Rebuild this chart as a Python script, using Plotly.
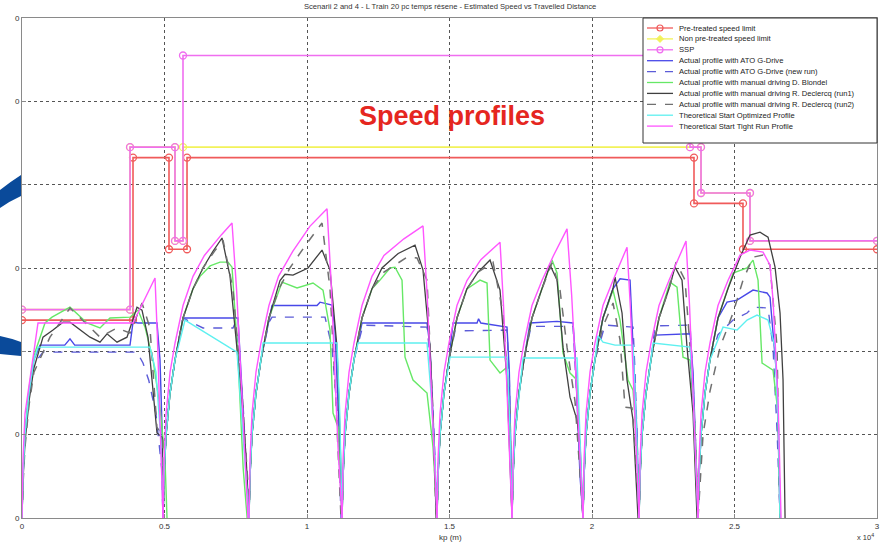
import plotly.graph_objects as go

TITLE = "Scenarii 2 and 4 - L Train 20 pc temps résene - Estimated Speed vs Travelled Distance"
X_TICKS = [0, 5000, 10000, 15000, 20000, 25000, 30000]
X_TICK_LABELS = ["0", "0.5", "1", "1.5", "2", "2.5", "3"]
Y_TICKS = [0, 20, 40, 60, 80, 100, 120]
Y_TICK_LABELS = ["0", "0", "0", "0", "0", "0", "0"]

LEGEND_LABELS = [
    "Pre-treated speed limit",
    "Non pre-treated speed limit",
    "SSP",
    "Actual profile with ATO G-Drive",
    "Actual profile with ATO G-Drive (new run)",
    "Actual profile with manual driving D. Blondel",
    "Actual profile with manual driving R. Declercq (run1)",
    "Actual profile with manual driving R. Declercq (run2)",
    "Theoretical Start Optimized Profile",
    "Theoretical Start Tight Run Profile",
]

# speed limits (distance m, speed)
PRE_TREATED = [(0, 47.5), (3895, 47.5), (3895, 86.5), (5158, 86.5), (5158, 64.5), (5790, 64.5),
               (5790, 86.5), (23579, 86.5), (23579, 75.5), (25298, 75.5), (25298, 64.5), (30000, 64.5)]
NON_PRE_TREATED = [(0, 50), (3790, 50), (3790, 89), (5368, 89), (5368, 66.5), (5649, 66.5),
                   (5649, 89), (23439, 89), (23825, 89), (23825, 78), (25544, 78), (25544, 66.5), (30000, 66.5)]
SSP = [(0, 50), (3790, 50), (3790, 89), (5368, 89), (5368, 66.5), (5649, 66.5), (5649, 111),
       (23439, 111), (23439, 89), (23825, 89), (23825, 78), (25544, 78), (25544, 66.5), (30000, 66.5)]

ATO = [
    [(0, 0), (35, 10), (105, 20), (245, 30), (420, 38), (632, 41.5), (1500, 41.5), (1684, 43), (1850, 41.5),
     (3790, 41.5), (3895, 47), (4070, 46.8), (4737, 46.8), (4842, 38), (4913, 22), (4948, 0)],
    [(4950, 0), (4985, 10), (5055, 20), (5195, 30), (5370, 38), (5649, 48), (7579, 48), (7720, 30.7), (7860, 15), (7965, 0)],
    [(7965, 0), (8000, 10), (8070, 20), (8210, 30), (8385, 38), (8665, 48), (8773, 51), (10352, 51), (10457, 51.8),
     (10878, 51.1), (10983, 45), (11100, 25), (11229, 0)],
    [(11230, 0), (11265, 10), (11335, 20), (11475, 30), (11650, 38), (11930, 46.8), (14211, 46.8), (14317, 41), (14450, 20), (14562, 0)],
    [(14562, 0), (14597, 10), (14667, 20), (14807, 30), (14982, 38), (15124, 46.8), (15966, 46.8), (16020, 47.8), (16100, 46.8),
     (17018, 45.8), (17100, 35), (17160, 15), (17194, 0)],
    [(17194, 0), (17229, 10), (17299, 20), (17439, 30), (17614, 38), (17826, 46.8), (18773, 47.2), (19334, 46.8), (19404, 40),
     (19500, 25), (19580, 10), (19685, 0)],
    [(19685, 0), (19720, 10), (19790, 20), (19930, 30), (20105, 38), (20385, 48), (20735, 55), (20984, 57.4), (21335, 57.1),
     (21510, 33), (21580, 20), (21651, 0)],
    [(21651, 0), (21686, 10), (21756, 20), (21896, 30), (22071, 38), (22212, 43.9), (23440, 44.2), (23545, 35), (23650, 15), (23721, 0)],
    [(23721, 0), (23756, 10), (23826, 20), (23966, 30), (24141, 38), (24421, 48), (24738, 51.8), (25089, 52.3), (25650, 54.7),
     (26142, 54), (26247, 53), (26493, 33), (26598, 0)],
]

ATO_NEW = [
    [(0, 0), (35, 10), (105, 20), (245, 30), (420, 37), (737, 39.8), (4035, 39.8), (4246, 37.2), (4450, 33), (4700, 25), (4900, 12), (4948, 0)],
    [(4950, 0), (4985, 10), (5055, 20), (5195, 30), (5370, 38), (5649, 48), (6351, 45.6), (7404, 45.6), (7480, 46.8), (7600, 40),
     (7750, 28), (7880, 12), (7965, 0)],
    [(7965, 0), (8000, 10), (8070, 20), (8210, 30), (8385, 38), (8665, 47), (8773, 48.2), (10633, 48.2), (10878, 41), (11100, 22), (11194, 0)],
    [(11230, 0), (11265, 10), (11335, 20), (11475, 30), (11650, 38), (11966, 46.3), (14211, 45.8), (14330, 38), (14470, 18), (14562, 0)],
    [(14562, 0), (14597, 10), (14667, 20), (14807, 30), (14982, 38), (15194, 44.9), (17018, 45.1), (17100, 33), (17194, 0)],
    [(17194, 0), (17229, 10), (17299, 20), (17439, 30), (17614, 38), (17860, 46), (19334, 46), (19450, 32), (19600, 12), (19685, 0)],
    [(19685, 0), (19720, 10), (19790, 20), (19930, 30), (20105, 38), (20457, 46.3), (21440, 45.8), (21510, 35), (21600, 15), (21651, 0)],
    [(21651, 0), (21686, 10), (21756, 20), (21896, 30), (22071, 38), (22212, 46.1), (23440, 46.3), (23545, 33), (23650, 12), (23721, 0)],
    [(23721, 0), (23756, 10), (23826, 20), (23966, 30), (24141, 38), (24421, 44), (24949, 47.5), (25440, 49.2), (25650, 50.6),
     (26177, 50.4), (26352, 41), (26500, 20), (26598, 0)],
]

BLONDEL = [
    [(0, 0), (35, 10), (105, 20), (245, 31), (420, 39), (807, 46.8), (1053, 48.2), (1684, 50.6), (2281, 46.8), (2737, 45.6),
     (3088, 48), (3790, 48.2), (4070, 49.9), (4316, 45.8), (4597, 38), (4842, 26.6), (5018, 13.9), (5088, 0)],
    [(4950, 0), (4985, 10), (5055, 20), (5195, 30), (5370, 38), (5650, 48), (6000, 55), (6246, 58), (6600, 60.5), (6948, 61.4),
     (7229, 61.4), (7369, 60.2), (7579, 38.6), (7650, 26.6), (7760, 12), (7900, 0)],
    [(7965, 0), (8000, 10), (8070, 20), (8210, 30), (8385, 38), (8665, 48), (9123, 56.6), (9650, 55.2), (10211, 56.4),
     (10562, 54.7), (10808, 45.1), (10913, 25.2), (11088, 21.8), (11229, 0)],
    [(11230, 0), (11265, 10), (11335, 20), (11475, 30), (11650, 38), (11930, 48), (12280, 55), (12562, 57.1), (12913, 60),
     (13088, 60.2), (13334, 57.1), (13439, 38.6), (13720, 33.1), (14211, 30), (14422, 17), (14562, 0)],
    [(14562, 0), (14597, 10), (14667, 20), (14807, 30), (14982, 38), (15262, 48), (15612, 55), (16071, 57.1), (16317, 56.4),
     (16422, 37.9), (16773, 34.8), (17018, 36.2), (17124, 17), (17194, 0)],
    [(17194, 0), (17229, 10), (17299, 20), (17439, 30), (17614, 38), (17894, 48), (18244, 55), (18597, 61.9), (18773, 58.8),
     (18983, 39.6), (19229, 34.8), (19475, 33.1), (19580, 14.6), (19685, 0)],
    [(19685, 0), (19720, 10), (19790, 20), (19930, 30), (20105, 38), (20385, 48), (20738, 54.7), (20984, 47.5), (21264, 33.1),
     (21440, 30.7), (21580, 17), (21651, 0)],
    [(21651, 0), (21686, 10), (21756, 20), (21896, 30), (22071, 38), (22351, 48), (22738, 56.6), (22984, 55.4), (23194, 38.6),
     (23440, 37.9), (23615, 21), (23721, 0)],
    [(23721, 0), (23756, 10), (23826, 20), (23966, 30), (24141, 38), (24421, 48), (24949, 58.8), (25440, 60), (25650, 61.9),
     (25826, 57.1), (25967, 37.2), (26352, 35.5), (26528, 25.2), (26598, 0)],
]

DECLERCQ_1 = [
    [(0, 0), (35, 9), (105, 18), (245, 28), (420, 36), (737, 43.4), (1088, 45.1), (1439, 47), (1684, 47), (1965, 45.6),
     (2386, 43.4), (2737, 42.2), (2983, 44.2), (3334, 42.2), (3684, 43.4), (4035, 50.6), (4211, 49.9), (4421, 43.4),
     (4597, 30), (4737, 20.4), (4913, 19.4), (4960, 0)],
    [(4950, 0), (4985, 10), (5055, 20), (5195, 30), (5370, 38), (5650, 48), (6000, 55), (6350, 60), (6700, 64), (7018, 67.2),
     (7300, 58), (7650, 33), (7860, 15), (7965, 0)],
    [(7965, 0), (8000, 10), (8070, 20), (8210, 30), (8385, 38), (8665, 48), (9053, 57), (9229, 58.5), (9509, 58.3),
     (10036, 60), (10527, 64.3), (10808, 59.5), (11053, 41), (11159, 20), (11229, 0)],
    [(11230, 0), (11265, 10), (11335, 20), (11475, 30), (11650, 38), (11930, 48), (12280, 55), (12630, 60), (13200, 63.5),
     (13790, 65.5), (14071, 59.5), (14317, 41), (14492, 10), (14530, 0)],
    [(14562, 0), (14597, 10), (14667, 20), (14807, 30), (14982, 38), (15262, 48), (15612, 55), (16000, 59), (16422, 61.9),
     (16773, 54.7), (17018, 33.1), (17194, 0)],
    [(17194, 0), (17229, 10), (17299, 20), (17439, 30), (17614, 38), (17894, 48), (18244, 55), (18527, 60.7), (18773, 57.1),
     (18983, 41), (19229, 29), (19475, 23.5), (19580, 18), (19685, 0)],
    [(19685, 0), (19720, 10), (19790, 20), (19930, 30), (20105, 38), (20385, 48), (20735, 55), (20808, 57.8), (21054, 49.2),
     (21229, 33.1), (21440, 23.5), (21615, 0)],
    [(21651, 0), (21686, 10), (21756, 20), (21896, 30), (22071, 38), (22351, 48), (22701, 55), (22913, 60.2), (23159, 57.1),
     (23334, 41), (23545, 25.2), (23686, 0)],
    [(23721, 0), (23756, 10), (23826, 20), (23966, 30), (24141, 38), (24421, 48), (24771, 55), (25194, 62.6), (25545, 67.9),
     (25896, 68.6), (26177, 67.4), (26423, 60.2), (26598, 49.2), (26703, 33.1), (26774, 0)],
]

DECLERCQ_2 = [
    [(0, 0), (35, 8), (105, 17), (245, 27), (420, 35), (982, 43.4), (1684, 50.4), (2281, 46.3), (2737, 43.4), (3334, 45.6),
     (3790, 44.4), (4211, 51.6), (4491, 45.6), (4737, 21.6), (4930, 20.4), (4960, 0)],
    [(4950, 0), (4985, 10), (5055, 20), (5195, 30), (5370, 38), (5650, 48), (6000, 55), (6350, 60), (6750, 64), (7053, 66.7),
     (7400, 55), (7720, 30), (7930, 8), (7965, 0)],
    [(7965, 0), (8000, 10), (8070, 20), (8210, 30), (8385, 38), (8665, 48), (9015, 55), (9400, 60), (9900, 65), (10527, 70.8),
     (10808, 55), (11000, 30), (11194, 0)],
    [(11230, 0), (11265, 10), (11335, 20), (11475, 30), (11650, 38), (11930, 48), (12280, 55), (12700, 59), (13509, 62.6),
     (13860, 62.4), (14211, 57.1), (14422, 25.2), (14527, 0)],
    [(14562, 0), (14597, 10), (14667, 20), (14807, 30), (14982, 38), (15262, 48), (15612, 55), (16000, 59), (16527, 61.4),
     (16878, 49.2), (17124, 25.2), (17194, 0)],
    [(17194, 0), (17229, 10), (17299, 20), (17439, 30), (17614, 38), (17894, 48), (18244, 55), (18597, 61.2), (18878, 54.7),
     (19124, 41), (19404, 28), (19685, 0)],
    [(19685, 0), (19720, 10), (19790, 20), (19930, 30), (20105, 38), (20385, 46), (20738, 51.6), (20984, 42.7), (21159, 26.6),
     (21405, 26.4), (21510, 17), (21651, 0)],
    [(21651, 0), (21686, 10), (21756, 20), (21896, 30), (22071, 38), (22351, 48), (22701, 55), (22950, 61.4), (23264, 57.1),
     (23440, 41), (23615, 21), (23721, 0)],
    [(23721, 0), (23896, 20), (24142, 30.5), (24493, 41), (24949, 49.2), (25299, 57.1), (25650, 62.6), (26002, 63.1),
     (26247, 60.7), (26493, 41), (26598, 0)],
]

START_OPTIMIZED = [
    [(0, 0), (35, 10), (105, 20), (245, 30), (420, 38), (561, 41), (4491, 41), (4700, 35), (4880, 18), (4948, 0)],
    [(4950, 0), (4985, 10), (5055, 20), (5195, 30), (5370, 38), (5720, 47.5), (7544, 39.8), (7650, 30), (7800, 15), (7965, 0)],
    [(7965, 0), (8000, 10), (8070, 20), (8210, 30), (8385, 38), (8457, 42), (11053, 42), (11150, 25), (11229, 0)],
    [(11230, 0), (11265, 10), (11335, 20), (11475, 30), (11650, 38), (11790, 42), (14211, 42), (14350, 30), (14500, 12), (14562, 0)],
    [(14562, 0), (14597, 10), (14667, 20), (14807, 30), (15018, 38.6), (17018, 38.6), (17120, 22), (17194, 0)],
    [(17194, 0), (17229, 10), (17299, 20), (17439, 30), (17580, 38.4), (19475, 38.4), (19580, 20), (19685, 0)],
    [(19685, 0), (19720, 10), (19790, 20), (19930, 30), (20105, 38), (20211, 43.7), (20387, 42.2), (20808, 41.5),
     (21440, 41.5), (21540, 25), (21651, 0)],
    [(21651, 0), (21686, 10), (21756, 20), (21896, 30), (22071, 38), (22142, 42), (23440, 41), (23545, 30), (23721, 0)],
    [(23721, 0), (23756, 10), (23826, 20), (23966, 30), (24141, 38), (24598, 45.8), (25089, 45.1), (25440, 47.5),
     (25791, 48.7), (26177, 47.5), (26423, 41), (26550, 20), (26598, 0)],
]

START_TIGHT = [
    [(0, 0), (35, 14), (105, 25), (386, 37.9), (561, 46.8), (3895, 46.8), (4667, 57.6), (4748, 44), (4808, 32), (4889, 13), (4948, 0)],
    [(4950, 0), (4985, 14), (5055, 25), (5195, 35), (5370, 42), (5650, 51), (6000, 58), (6400, 63), (7000, 68), (7369, 70.8),
     (7532, 54.5), (7650, 39), (7812, 16), (7930, 0)],
    [(7965, 0), (8000, 14), (8070, 25), (8210, 35), (8385, 42), (8665, 51), (9000, 58), (9500, 64), (10100, 70), (10703, 74.2),
     (10843, 57.1), (10948, 41), (11088, 17), (11229, 0)],
    [(11230, 0), (11265, 14), (11335, 25), (11475, 35), (11650, 42), (11930, 51), (12280, 58), (12700, 63), (13400, 67),
     (14071, 70.1), (14213, 54), (14317, 38.5), (14459, 16), (14562, 0)],
    [(14562, 0), (14597, 14), (14667, 25), (14807, 35), (14982, 42), (15262, 51), (15612, 57), (16100, 62), (16773, 66.2),
     (16895, 51), (16984, 36.4), (17106, 15.2), (17194, 0)],
    [(17194, 0), (17229, 14), (17299, 25), (17439, 35), (17614, 42), (17894, 51), (18244, 57), (18650, 63), (19124, 69.4),
     (19287, 53.4), (19405, 38.2), (19567, 16), (19685, 0)],
    [(19685, 0), (19720, 14), (19790, 25), (19930, 35), (20105, 42), (20385, 51), (20735, 57), (21229, 65), (21351, 50),
     (21440, 35.8), (21562, 15), (21651, 0)],
    [(21651, 0), (21686, 14), (21756, 25), (21896, 35), (22071, 42), (22351, 51), (22700, 57), (23299, 66.5), (23421, 51.2),
     (23510, 36.6), (23632, 15.3), (23721, 0)],
    [(23721, 0), (23756, 14), (23826, 25), (23966, 35), (24141, 42), (24421, 51), (24771, 57), (25194, 63.1), (25545, 64.3),
     (26002, 63.8), (26247, 60.7), (26352, 52.3), (26528, 28.3), (26633, 0)],
]


def pts(points):
    return [p[0] for p in points], [p[1] for p in points]


def segs(segments):
    xs, ys = [], []
    for seg in segments:
        for x, y in seg:
            xs.append(x)
            ys.append(y)
        xs.append(None)
        ys.append(None)
    return xs, ys


C_RED = "#f05a5a"
C_YEL = "#f2f25a"
C_SSP = "#f06ef0"
C_ATO = "#4848e8"
C_ATO2 = "#5c5cd8"
C_GRN = "#66e866"
C_DK = "#404040"
C_GR = "#707070"
C_CY = "#5ef0f0"
C_MG = "#ff55ff"

fig = go.Figure()

limit_series = [(PRE_TREATED, C_RED, "circle-open"), (NON_PRE_TREATED, C_YEL, "circle-open"), (SSP, C_SSP, "circle-open")]
for i, (data, col, sym) in enumerate(limit_series):
    x, y = pts(data)
    fig.add_trace(go.Scatter(x=x, y=y, mode="lines+markers", name=LEGEND_LABELS[i],
                             line=dict(color=col, width=1.6),
                             marker=dict(symbol=sym, size=7, color=col, line=dict(width=1.3, color=col))))

profile_series = [
    (ATO, C_ATO, "solid", 1.4),
    (ATO_NEW, C_ATO2, "dash", 1.4),
    (BLONDEL, C_GRN, "solid", 1.4),
    (DECLERCQ_1, C_DK, "solid", 1.3),
    (DECLERCQ_2, C_GR, "dash", 1.5),
    (START_OPTIMIZED, C_CY, "solid", 1.4),
    (START_TIGHT, C_MG, "solid", 1.4),
]
for j, (data, col, dash, w) in enumerate(profile_series):
    x, y = segs(data)
    fig.add_trace(go.Scatter(x=x, y=y, mode="lines", name=LEGEND_LABELS[3 + j],
                             line=dict(color=col, width=w, dash=dash), connectgaps=False))

# pixel helpers for placing decorations (plot area 22..877 x 18..518)
def PX(px):
    return (px - 22) / 855.0


def PY(py):
    return (518 - py) / 500.0


shapes = []
# decorative blue arcs at left border (slide background)
shapes.append(dict(type="path", xref="paper", yref="paper", layer="above",
                   path=f"M {PX(0)},{PY(190)} Q {PX(10)},{PY(182)} {PX(21)},{PY(175)} L {PX(21)},{PY(196)} Q {PX(10)},{PY(201)} {PX(0)},{PY(208)} Z",
                   fillcolor="#0a4a9a", line=dict(width=0)))
shapes.append(dict(type="path", xref="paper", yref="paper", layer="above",
                   path=f"M {PX(0)},{PY(336)} Q {PX(10)},{PY(338)} {PX(21)},{PY(342)} L {PX(21)},{PY(356)} Q {PX(10)},{PY(355)} {PX(0)},{PY(354)} Z",
                   fillcolor="#0a4a9a", line=dict(width=0)))

# legend box
shapes.append(dict(type="rect", xref="paper", yref="paper", layer="above",
                   x0=PX(643), x1=PX(877), y0=PY(143), y1=PY(18),
                   fillcolor="white", line=dict(color="#333333", width=1)))

leg_styles = [
    (C_RED, "solid", "circle"), (C_YEL, "solid", "diamond"), (C_SSP, "solid", "circle"),
    (C_ATO, "solid", None), (C_ATO2, "dash", None), (C_GRN, "solid", None),
    (C_DK, "solid", None), (C_GR, "dash", None), (C_CY, "solid", None), (C_MG, "solid", None),
]
annotations = []
for i, (label, (col, dash, mk)) in enumerate(zip(LEGEND_LABELS, leg_styles)):
    ypx = 28 + i * 10.9
    shapes.append(dict(type="line", xref="paper", yref="paper", layer="above",
                       x0=PX(647), x1=PX(673), y0=PY(ypx), y1=PY(ypx),
                       line=dict(color=col, width=1.3, dash=dash)))
    if mk == "circle":
        shapes.append(dict(type="circle", xref="paper", yref="paper", layer="above",
                           x0=PX(657), x1=PX(663), y0=PY(ypx + 3), y1=PY(ypx - 3),
                           line=dict(color=col, width=1.2), fillcolor="rgba(0,0,0,0)"))
    elif mk == "diamond":
        shapes.append(dict(type="path", xref="paper", yref="paper", layer="above",
                           path=f"M {PX(660)},{PY(ypx-3.5)} L {PX(663.5)},{PY(ypx)} L {PX(660)},{PY(ypx+3.5)} L {PX(656.5)},{PY(ypx)} Z",
                           fillcolor=col, line=dict(color=col, width=1)))
    annotations.append(dict(text=label, xref="paper", yref="paper", x=PX(677), y=PY(ypx),
                            xanchor="left", yanchor="middle", showarrow=False,
                            font=dict(size=7.6, color="#222222")))

annotations.append(dict(text=TITLE, xref="paper", yref="paper", x=0.5, y=PY(7), xanchor="center",
                        yanchor="middle", showarrow=False, font=dict(size=7.6, color="#333333")))
annotations.append(dict(text="x 10<sup>4</sup>", xref="paper", yref="paper", x=PX(876), y=PY(537),
                        xanchor="right", yanchor="middle", showarrow=False, font=dict(size=7.5, color="#333333")))
annotations.append(dict(text="kp (m)", xref="paper", yref="paper", x=PX(450), y=PY(537),
                        xanchor="center", yanchor="middle", showarrow=False, font=dict(size=8, color="#333333")))
annotations.append(dict(text="<b>Speed profiles</b>", xref="paper", yref="paper", x=PX(452), y=PY(116),
                        xanchor="center", yanchor="middle", showarrow=False,
                        font=dict(size=27, color="#e52620", family="Liberation Sans, Arial, sans-serif")))

fig.update_layout(
    width=880, height=546,
    margin=dict(l=22, r=3, t=18, b=28),
    paper_bgcolor="white", plot_bgcolor="white",
    showlegend=False,
    font=dict(family="Liberation Sans, Arial, sans-serif", size=8, color="#333333"),
    shapes=shapes, annotations=annotations,
    xaxis=dict(range=[0, 30000], tickvals=X_TICKS, ticktext=X_TICK_LABELS, automargin=False,
               showgrid=True, gridcolor="#555555", griddash="dot", gridwidth=1,
               showline=True, linecolor="#8a8a8a", linewidth=1, mirror=True,
               ticks="inside", ticklen=4, tickcolor="#8a8a8a", zeroline=False,
               tickfont=dict(size=8, color="#333333")),
    yaxis=dict(range=[0, 120], tickvals=Y_TICKS, ticktext=Y_TICK_LABELS, automargin=False,
               showgrid=True, gridcolor="#555555", griddash="dot", gridwidth=1,
               showline=True, linecolor="#8a8a8a", linewidth=1, mirror=True,
               ticks="inside", ticklen=4, tickcolor="#8a8a8a", zeroline=False,
               tickfont=dict(size=8, color="#333333")),
)

fig.write_html("out.html", config={"displayModeBar": False},
               post_script="document.body.style.margin='0';document.body.style.overflow='hidden';")
